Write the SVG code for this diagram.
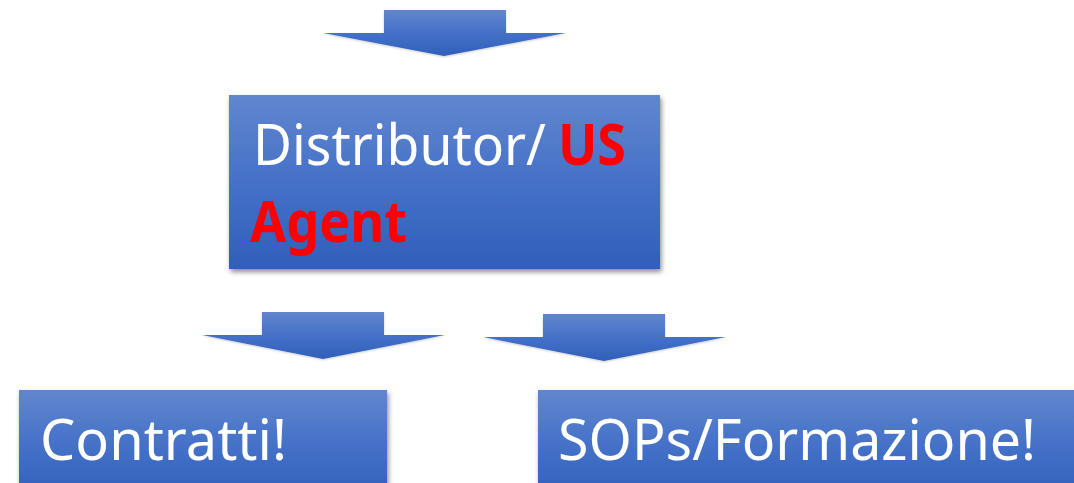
<svg xmlns="http://www.w3.org/2000/svg" width="1074" height="483" viewBox="0 0 1074 483">
  <defs>
    <linearGradient id="blue" x1="0" y1="0" x2="0" y2="1">
      <stop offset="0" stop-color="#6186CE"/>
      <stop offset="0.5" stop-color="#4571C8"/>
      <stop offset="1" stop-color="#2F5FBA"/>
    </linearGradient>
    <filter id="shadow" x="-10%" y="-10%" width="120%" height="130%">
      <feDropShadow dx="1.5" dy="3" stdDeviation="2.5" flood-color="#000" flood-opacity="0.45"/>
    </filter>
    <filter id="ashadow" x="-10%" y="-20%" width="120%" height="150%">
      <feDropShadow dx="0" dy="1" stdDeviation="1" flood-color="#000" flood-opacity="0.2"/>
    </filter>
  </defs>
  <style>
    .box { fill: url(#blue); filter: url(#shadow); }
    .arrow { fill: url(#blue); filter: url(#ashadow); }
    .t { font-family: "Noto Sans", "Open Sans", sans-serif; font-size: 57px; }
    .w { fill: #FFFFFF; }
    .r { fill: #FF0000; font-weight: bold; }
  </style>
  <rect width="1074" height="483" fill="#FFFFFF"/>
  <g id="connectors">
    <polygon class="arrow" points="384,10 506,10 506,33 566,33 444,56 323,33 384,33"/>
    <polygon class="arrow" points="262,312 384,312 384,335 445,335 323,359 202,335 262,335"/>
    <polygon class="arrow" points="543,314 665,314 665,337 726,337 604,361 483,337 543,337"/>
  </g>
  <g id="node-distributor">
    <rect class="box" x="229" y="95" width="431" height="174"/>
    <text class="t w" x="253" y="165" textLength="293" lengthAdjust="spacingAndGlyphs">Distributor/</text>
    <text class="t r" x="558" y="165" textLength="68" lengthAdjust="spacingAndGlyphs">US</text>
    <text class="t r" x="250" y="242" textLength="157" lengthAdjust="spacingAndGlyphs">Agent</text>
  </g>
  <g id="node-contratti">
    <rect class="box" x="19" y="390" width="368" height="110"/>
    <text class="t w" x="40" y="460" textLength="247" lengthAdjust="spacingAndGlyphs">Contratti!</text>
  </g>
  <g id="node-sops">
    <rect class="box" x="538" y="390" width="560" height="110"/>
    <text class="t w" x="558" y="460" textLength="478" lengthAdjust="spacingAndGlyphs">SOPs/Formazione!</text>
  </g>
</svg>
